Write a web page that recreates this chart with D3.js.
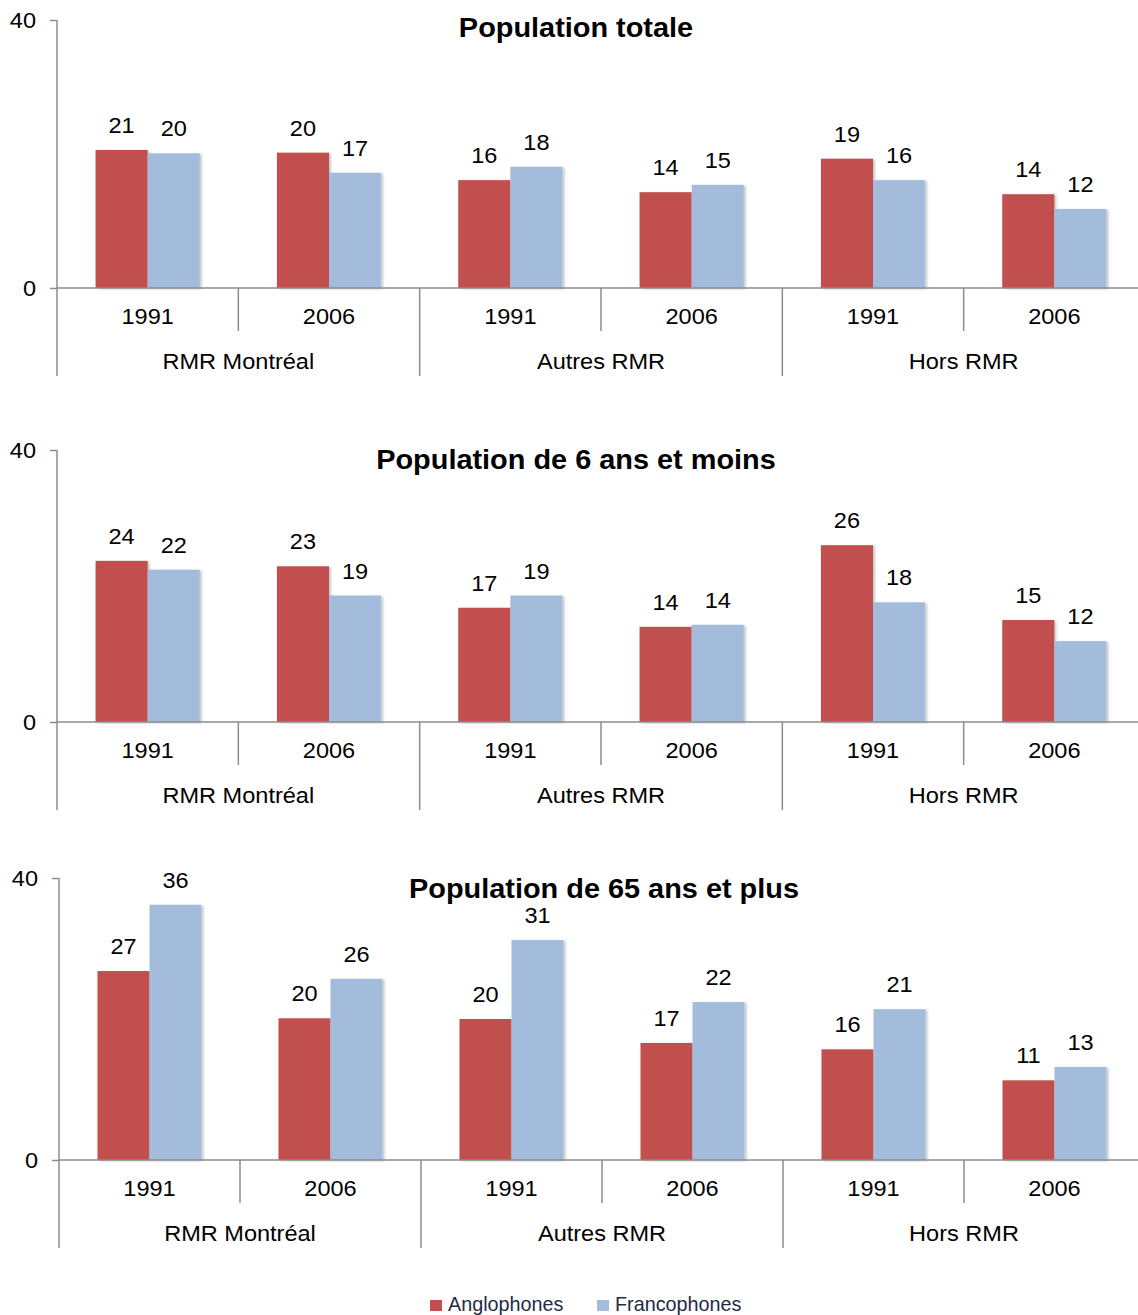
<!DOCTYPE html>
<html><head><meta charset="utf-8">
<script src="https://cdn.jsdelivr.net/npm/d3@7"></script>
<style>
html,body{margin:0;padding:0;background:#fff;}
svg{display:block;}
text{font-family:"Liberation Sans",Arial,sans-serif;}
</style></head>
<body>
<svg id="chart" width="1138" height="1315"></svg>
<script>
const regions = ["RMR Montréal", "Autres RMR", "Hors RMR"];
const years = ["1991", "2006"];
const seriesNames = ["Anglophones", "Francophones"];
const seriesColors = ["#C0504D", "#A3BCDC"];
const panelTitles = ["Population totale", "Population de 6 ans et moins", "Population de 65 ans et plus"];
const yTicks = [0, 40];

// order: Montréal 1991, Montréal 2006, Autres 1991, Autres 2006, Hors 1991, Hors 2006
const totalAnglo   = [20.6, 20.2, 16.1, 14.3, 19.3, 14.0];
const totalFranco  = [20.1, 17.2, 18.1, 15.4, 16.1, 11.8];
const young6Anglo  = [23.7, 22.9, 16.8, 14.0, 26.0, 15.0];
const young6Franco = [22.4, 18.6, 18.6, 14.3, 17.6, 11.9];
const senior65Anglo  = [26.8, 20.1, 20.0, 16.6, 15.7, 11.3];
const senior65Franco = [36.2, 25.7, 31.2, 22.4, 21.4, 13.2];

const panelData = [
  [totalAnglo, totalFranco],
  [young6Anglo, young6Franco],
  [senior65Anglo, senior65Franco]
];

// layout of each panel
const panels = [
  {left:57, right:1145, top:20,  zero:288,  bottom:376, titleX:576, titleY:37},
  {left:57, right:1145, top:450, zero:722,  bottom:810, titleX:576, titleY:469},
  {left:59, right:1145, top:878, zero:1160, bottom:1248, titleX:604, titleY:898}
];

const SX = 1.07; // horizontal stretch of text as in the reference

const svg = d3.select("#chart");
const defs = svg.append("defs");
const f = defs.append("filter").attr("id", "shadow").attr("x", "-10%").attr("y", "-10%").attr("width", "130%").attr("height", "130%");
f.append("feDropShadow").attr("dx", 2).attr("dy", 1).attr("stdDeviation", 1.2)
  .attr("flood-color", "#000").attr("flood-opacity", 0.22);

const axisColor = "#8c8c8c";

function stretchedText(sel, x, y) {
  return sel.append("text").attr("transform", `translate(${x},${y}) scale(${SX},1)`);
}

const groups = [];
regions.forEach(r => years.forEach(y => groups.push(r + "|" + y)));

panels.forEach((p, pi) => {
  const g = svg.append("g");
  const x = d3.scaleBand().domain(groups).range([p.left, p.right]).padding(0);
  const xi = d3.scaleBand().domain(d3.range(2)).range([0, x.bandwidth()]).paddingInner(0).paddingOuter(0.74);
  const y = d3.scaleLinear().domain([0, 40]).range([p.zero, p.top]);

  // title
  stretchedText(g, p.titleX, p.titleY)
    .attr("text-anchor", "middle").attr("font-size", 27).attr("font-weight", "bold")
    .attr("fill", "#000").text(panelTitles[pi]);

  // y axis
  const yAxis = d3.axisLeft(y).tickValues(yTicks).tickSize(7).tickPadding(14);
  const ya = g.append("g").attr("transform", `translate(${p.left},0)`).call(yAxis);
  ya.select(".domain").remove();
  ya.selectAll(".tick line").attr("stroke", axisColor).attr("stroke-width", 1.5);
  ya.selectAll(".tick text").attr("font-size", 22).attr("fill", "#000")
    .attr("font-family", "Liberation Sans, Arial, sans-serif")
    .attr("transform", `scale(${SX},1)`).attr("x", -21 / SX);
  g.append("line").attr("x1", p.left).attr("x2", p.left).attr("y1", p.top).attr("y2", p.bottom)
    .attr("stroke", axisColor).attr("stroke-width", 1.5);

  // bars
  const series = panelData[pi];
  const bars = [];
  series.forEach((vals, si) => vals.forEach((v, gi) => bars.push({si, gi, v})));
  g.selectAll("rect.bar").data(bars).join("rect").attr("class", "bar")
    .attr("x", d => x(groups[d.gi]) + xi(d.si))
    .attr("width", xi.bandwidth())
    .attr("y", d => y(d.v))
    .attr("height", d => y(0) - y(d.v))
    .attr("fill", d => seriesColors[d.si])
    .attr("filter", "url(#shadow)");

  // value labels
  bars.forEach(d => {
    stretchedText(g, x(groups[d.gi]) + xi(d.si) + xi.bandwidth() / 2, y(d.v) - 17)
      .attr("text-anchor", "middle").attr("font-size", 22).attr("fill", "#000")
      .text(Math.round(d.v));
  });

  // baseline
  g.append("line").attr("x1", p.left).attr("x2", 1138).attr("y1", p.zero).attr("y2", p.zero)
    .attr("stroke", axisColor).attr("stroke-width", 1.5);

  // separators
  groups.forEach((k, gi) => {
    if (gi === 0) return;
    const sx = x(k);
    const long = gi % 2 === 0;
    g.append("line").attr("x1", sx).attr("x2", sx).attr("y1", p.zero)
      .attr("y2", long ? p.bottom : p.zero + 43)
      .attr("stroke", axisColor).attr("stroke-width", 1.5);
  });

  // year labels
  groups.forEach(k => {
    stretchedText(g, x(k) + x.bandwidth() / 2, p.zero + 36)
      .attr("text-anchor", "middle").attr("font-size", 22).attr("fill", "#000")
      .text(k.split("|")[1]);
  });
  // region labels
  regions.forEach(r => {
    const cx = (x(r + "|" + years[0]) + x(r + "|" + years[1]) + x.bandwidth()) / 2;
    stretchedText(g, cx, p.zero + 81)
      .attr("text-anchor", "middle").attr("font-size", 22).attr("fill", "#000")
      .text(r);
  });
});

// legend
const legendX = [430, 597];
const lg = svg.append("g");
seriesNames.forEach((n, i) => {
  lg.append("rect").attr("x", legendX[i]).attr("y", 1300).attr("width", 12).attr("height", 11)
    .attr("fill", seriesColors[i]);
  lg.append("text").attr("x", legendX[i] + 18).attr("y", 1311)
    .attr("font-size", 19.8).attr("fill", "#1F2A44")
    .attr("font-family", "Open Sans, sans-serif")
    .text(n);
});
</script>
</body></html>
